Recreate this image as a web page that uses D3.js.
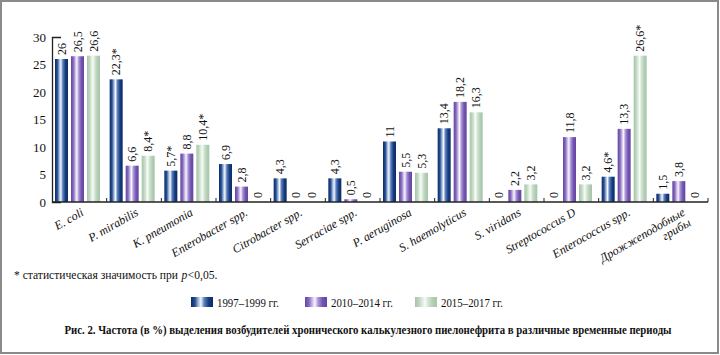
<!DOCTYPE html>
<html><head><meta charset="utf-8">
<script src="https://cdn.jsdelivr.net/npm/d3@7/dist/d3.min.js"></script>
<style>
html,body{margin:0;padding:0;background:#fff;}
svg{display:block;font-family:"Liberation Serif","Times New Roman",serif;}
</style></head>
<body>
<svg id="chart" width="720" height="355"></svg>
<script>
const categories = ["E. coli","P. mirabilis","K. pneumonia","Enterobacter spp.","Citrobacter spp.","Serraciae spp.","P. aeruginosa","S. haemolyticus","S. viridans","Streptococcus D","Enterococcus spp.","Дрожжеподобные|грибы"];
const seriesNames = ["1997–1999 гг.","2010–2014 гг.","2015–2017 гг."];
const s1997 = [26,22.3,5.7,6.9,4.3,4.3,11,13.4,0,0,4.6,1.5];
const s2010 = [26.5,6.6,8.8,2.8,0,0.5,5.5,18.2,2.2,11.8,13.3,3.8];
const s2015 = [26.6,8.4,10.4,0,0,0,5.3,16.3,3.2,3.2,26.6,0];
const sig1997 = [0,1,1,0,0,0,0,0,0,0,1,0];
const sig2010 = [0,0,0,0,0,0,0,0,0,0,0,0];
const sig2015 = [0,1,1,0,0,0,0,0,0,0,1,0];
const yTicks = [0,5,10,15,20,25,30];
const footnoteParts = ["* статистическая значимость при", "p", "<0,05."];
const caption = "Рис. 2. Частота (в %) выделения возбудителей хронического калькулезного пиелонефрита в различные временные периоды";

(function(){
const series = [s1997, s2010, s2015];
const sigs = [sig1997, sig2010, sig2015];

const svg = d3.select("#chart");
const defs = svg.append("defs");
const grads = [
  ["#0c2a66","#254f92","#9fb6dc","#f4f7fc","#5d80bb","#163e80","#0c2a66"],
  ["#6446a2","#8468bc","#c9bbe6","#f8f5fd","#a994d6","#7255b0","#6446a2"],
  ["#a6c5ab","#bcd5be","#dcebdd","#f8fbf8","#d2e4d3","#b3cfb6","#a6c5ab"]
];
const stops = [0,0.18,0.33,0.45,0.6,0.8,1];
grads.forEach((g,i)=>{
  const lg = defs.append("linearGradient").attr("id","g"+i).attr("x1","0").attr("x2","1").attr("y1","0").attr("y2","0");
  g.forEach((c,j)=>lg.append("stop").attr("offset",stops[j]).attr("stop-color",c));
});

// frame
svg.append("rect").attr("x",1).attr("y",1).attr("width",717).attr("height",352)
  .attr("fill","none").attr("stroke","#8a8a8a").attr("stroke-width",2);

const mLeft = 52, mRight = 708, mTop = 37, mBottom = 202;
const y = d3.scaleLinear().domain([0,30]).range([mBottom, mTop]);
const x0 = d3.scaleBand().domain(d3.range(categories.length)).range([mLeft,mRight]).padding(0);
const x1 = d3.scaleBand().domain([0,1,2]).range([3, 48]).paddingInner(0.1875).paddingOuter(0);

const fmt = v => String(v).replace(".", ",");

// bars
const g = svg.append("g");
categories.forEach((c,ci)=>{
  const gg = g.append("g").attr("transform",`translate(${x0(ci)},0)`);
  series.forEach((s,si)=>{
    const v = s[ci];
    if (v > 0) {
      gg.append("rect").attr("x",x1(si)).attr("y",y(v)).attr("width",x1.bandwidth())
        .attr("height",y(0)-y(v)).attr("fill",`url(#g${si})`);
    }
    const cx = x1(si)+x1.bandwidth()/2;
    const ty = y(v) - 4;
    gg.append("text").attr("transform",`translate(${cx},${ty}) rotate(-90)`)
      .attr("dy","0.35em").attr("font-size",12).attr("fill","#111")
      .text(fmt(v) + (sigs[si][ci] ? "*" : ""));
  });
});

// y axis
const yAxis = d3.axisLeft(y).tickValues(yTicks).tickSizeInner(0).tickSizeOuter(-9).tickPadding(6);
const ya = svg.append("g").attr("transform",`translate(${mLeft},0)`).call(yAxis);
ya.select(".domain").attr("stroke","#222").attr("stroke-width",1.3);
ya.selectAll("text").attr("font-size",13).attr("font-family","Liberation Serif").attr("fill","#111");

// x axis
svg.append("line").attr("x1",mLeft).attr("x2",mRight).attr("y1",mBottom).attr("y2",mBottom)
  .attr("stroke","#222").attr("stroke-width",1.5);
d3.range(1,categories.length+1).forEach(i=>{
  const xx = i < categories.length ? x0(i) : mRight;
  svg.append("line").attr("x1",xx).attr("x2",xx).attr("y1",mBottom).attr("y2",mBottom-4)
    .attr("stroke","#222").attr("stroke-width",1);
});

// category labels
categories.forEach((c,ci)=>{
  const cx = x0(ci)+x0.bandwidth()/2 + 3;
  const t = svg.append("text").attr("transform",`translate(${cx},${mBottom+9}) rotate(-30)`)
    .attr("text-anchor","end").attr("font-style","italic").attr("font-size",12).attr("fill","#111");
  c.split("|").forEach((ln,li)=>{
    t.append("tspan").attr("x",0).attr("dy", li===0 ? "0.35em" : "1.0em").text(ln);
  });
});

// footnote
const fg = svg.append("g");
let fx = 0;
footnoteParts.forEach((p,i)=>{
  const t = fg.append("text").attr("x",fx).attr("y",0).attr("font-size",12).attr("fill","#111")
    .attr("font-style", i===1 ? "italic" : "normal").text(p);
  fx += t.node().getComputedTextLength() + (i===0 ? 3.5 : 0.5);
});
fg.attr("transform",`translate(14,279) scale(${204/fx},1)`);

// legend
const legX = [191, 305, 415];
seriesNames.forEach((n,i)=>{
  const lg = svg.append("g").attr("transform",`translate(${legX[i]},297)`);
  lg.append("rect").attr("width",22).attr("height",10).attr("fill",`url(#g${i})`);
  lg.append("text").attr("x",26).attr("y",9.5).attr("font-size",12).attr("fill","#111")
    .attr("textLength",62).attr("lengthAdjust","spacingAndGlyphs").text(n);
});

// caption
svg.append("text").attr("x",368).attr("y",334).attr("text-anchor","middle")
  .attr("font-weight","bold").attr("font-size",11.5).attr("fill","#111")
  .attr("textLength",607).attr("lengthAdjust","spacingAndGlyphs").text(caption);
})();
</script>
</body></html>
